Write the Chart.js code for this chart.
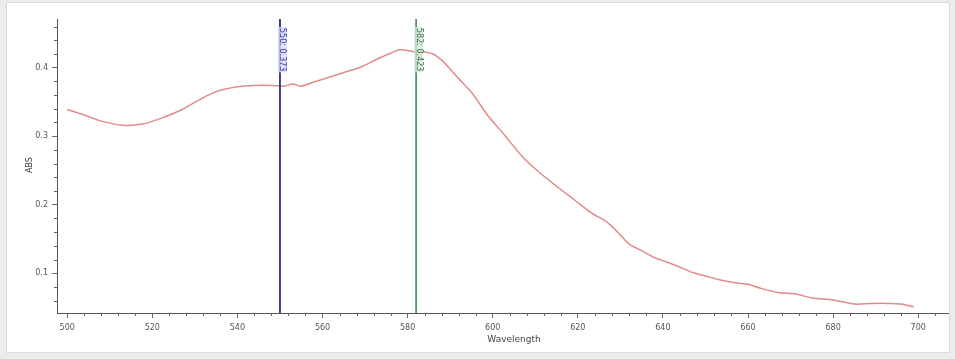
<!DOCTYPE html>
<html><head><meta charset="utf-8">
<script src="https://cdn.jsdelivr.net/npm/chart.js@4/dist/chart.umd.min.js"></script>
<style>
html,body{margin:0;padding:0;background:#ececec;width:955px;height:359px;overflow:hidden}
#wrap{position:absolute;left:6px;top:2px;width:942px;height:349px;border:1px solid #dadada;background:#fff}
canvas{display:block}
</style></head>
<body><div id="wrap"><canvas id="c" width="942" height="349"></canvas></div>
<script>
const wavelengths = [500,504,508,513,518,522,527,531,535,540,544,548,551,553,555,558,561,565,569,573,576,578,580,582,584,586,588,590,592,595,599,603,607,611,615,619,623,627,630,632,635,638,641,644,647,650,653,657,660,663,667,671,675,680,685,689,693,696,699];
const absorbance = [0.339,0.331,0.322,0.316,0.318,0.326,0.339,0.353,0.365,0.372,0.374,0.374,0.373,0.376,0.373,0.379,0.385,0.393,0.401,0.413,0.421,0.426,0.425,0.423,0.423,0.420,0.411,0.398,0.384,0.364,0.329,0.300,0.270,0.247,0.227,0.208,0.189,0.174,0.156,0.143,0.133,0.123,0.116,0.109,0.101,0.096,0.091,0.086,0.084,0.078,0.072,0.070,0.064,0.061,0.055,0.056,0.056,0.055,0.051];
const xTickValues = [500,520,540,560,580,600,620,640,660,680,700];
const yTickValues = [0.1,0.2,0.3,0.4];
const markerWavelengths = [550,582];
const markerAbs = [0.373,0.423];
const markerLabels = ['550: 0.373','582: 0.423'];
const markerColors = ['#2d2d8c','#4f9660'];
const markerBg = ['rgba(215,215,245,0.8)','rgba(210,232,212,0.8)'];
const markerText = ['#3a3aa8','#3d7449'];
const X_MIN = 497.6, X_MAX = 707, Y_MIN = 0.042, Y_MAX = 0.471;

const datasets = [{
  data: wavelengths.map((x,i)=>({x:x,y:absorbance[i]})),
  borderColor:'#e48a8a', borderWidth:1.5, pointRadius:0, tension:0.3, order:2
}];
markerWavelengths.forEach((w,i)=>{
  datasets.push({data:[{x:w,y:Y_MIN},{x:w,y:Y_MAX}], borderColor:markerColors[i], borderWidth:1.8, pointRadius:0, order:1});
});

const deco = {
  id:'deco',
  afterDraw(chart){
    const ctx = chart.ctx, xs = chart.scales.x, ys = chart.scales.y, ca = chart.chartArea;
    ctx.save();
    ctx.strokeStyle = '#666'; ctx.lineWidth = 1;
    ctx.beginPath();
    for (let v = 504; v <= X_MAX; v += 4) {
      if (v % 20 === 0) continue;
      const px = Math.round(xs.getPixelForValue(v)) + 0.5;
      ctx.moveTo(px, ca.bottom); ctx.lineTo(px, ca.bottom + 3);
    }
    for (let k = 3; k <= 23; k++) {
      if (k % 5 === 0) continue;
      const py = Math.round(ys.getPixelForValue(k/50)) + 0.5;
      ctx.moveTo(ca.left - 3, py); ctx.lineTo(ca.left, py);
    }
    ctx.stroke();
    ctx.font = '8px "DejaVu Sans"';
    markerWavelengths.forEach((w,i)=>{
      const px = xs.getPixelForValue(w);
      ctx.save();
      ctx.translate(px + 6, ca.top + 9);
      ctx.rotate(Math.PI/2);
      const tw = ctx.measureText(markerLabels[i]).width;
      ctx.fillStyle = markerBg[i];
      ctx.fillRect(-1, -1, tw + 2, 9);
      ctx.fillStyle = markerText[i];
      ctx.textBaseline = 'middle'; ctx.textAlign = 'left';
      ctx.fillText(markerLabels[i], 0, 3.5);
      ctx.restore();
    });
    ctx.fillStyle = '#444';
    ctx.font = '8px "DejaVu Sans"';
    ctx.save();
    ctx.translate(23, 162);
    ctx.rotate(-Math.PI/2);
    ctx.textAlign = 'center'; ctx.textBaseline = 'middle';
    ctx.fillText('ABS', 0, 0);
    ctx.restore();
    ctx.font = '9px "DejaVu Sans"';
    ctx.textAlign = 'center'; ctx.textBaseline = 'middle';
    ctx.fillText('Wavelength', 507, 337);
    ctx.restore();
  }
};

new Chart(document.getElementById('c'), {
  type:'line',
  data:{datasets:datasets},
  options:{
    responsive:false, animation:false,
    layout:{padding:{top:16,right:1,left:0,bottom:0}},
    plugins:{legend:{display:false}, tooltip:{enabled:false}},
    scales:{
      x:{type:'linear', min:X_MIN, max:X_MAX,
        afterBuildTicks(s){ s.ticks = xTickValues.map(v=>({value:v})); },
        afterFit(s){ s.height = 39; },
        grid:{drawOnChartArea:false, tickLength:5, color:'#666'},
        border:{color:'#555', width:1},
        ticks:{color:'#555', font:{family:'DejaVu Sans', size:8}, padding:5, maxRotation:0, autoSkip:false,
          callback:(v)=>String(v)}
      },
      y:{type:'linear', min:Y_MIN, max:Y_MAX,
        afterBuildTicks(s){ s.ticks = yTickValues.map(v=>({value:v})); },
        afterFit(s){ s.width = 50; },
        grid:{drawOnChartArea:false, tickLength:5, color:'#666'},
        border:{color:'#555', width:1},
        ticks:{color:'#555', font:{family:'DejaVu Sans', size:8}, padding:4,
          callback:(v)=>v.toFixed(1)}
      }
    }
  },
  plugins:[deco]
});
</script>
</body></html>
